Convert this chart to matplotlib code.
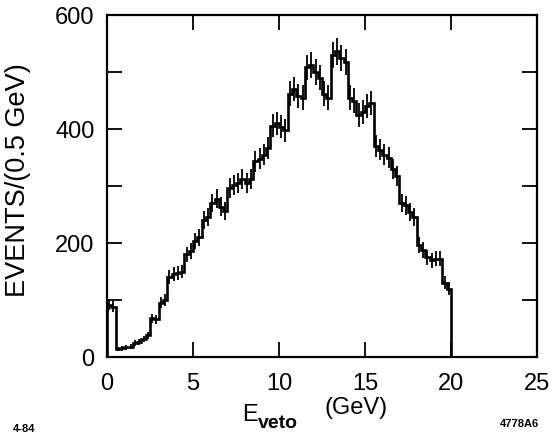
import matplotlib; matplotlib.use('Agg')
import matplotlib.pyplot as plt, numpy as np
from matplotlib.ticker import MultipleLocator, FuncFormatter

plt.rcParams.update({'font.family': ['Liberation Sans', 'DejaVu Sans'], 'font.size': 17})

# bin edges: 0.25 GeV steps, 0 .. 20 GeV
edges = np.arange(0, 20.25, 0.25)
counts = [92, 88, 14, 15, 17, 18, 25, 27, 32, 38,
          68, 66, 95, 100, 140, 146, 147, 150, 180, 186,
          203, 210, 240, 246, 270, 278, 264, 256, 296, 302,
          306, 312, 306, 312, 343, 348, 355, 366, 406, 410,
          404, 398, 462, 470, 458, 455, 508, 513, 500, 490,
          462, 455, 530, 536, 525, 518, 455, 450, 425, 430,
          440, 445, 370, 364, 355, 350, 330, 318, 270, 266,
          255, 246, 196, 188, 175, 170, 172, 172, 130, 120]
counts = np.array(counts, dtype=float)
errors = np.sqrt(counts)   # poisson errors
centers = 0.5 * (edges[:-1] + edges[1:])

fig = plt.figure(figsize=(5.52, 4.35), dpi=100)
ax = fig.add_axes([107/552, 1 - 358/435, 430/552, 342/435])

ax.stairs(counts, edges, baseline=0, color='black', lw=1.9)
ax.errorbar(centers, counts, yerr=errors, fmt='none', ecolor='black',
            elinewidth=1.3, capsize=0)

ax.set_xlim(0, 25)
ax.set_ylim(0, 600)
ax.xaxis.set_major_locator(MultipleLocator(5))
ax.yaxis.set_major_locator(MultipleLocator(100))
ax.yaxis.set_major_formatter(FuncFormatter(lambda v, p: f"{int(v)}" if v % 200 == 0 else ""))
ax.tick_params(direction='in', length=11, width=1.3, top=True, right=True)
ax.tick_params(axis='x', pad=11)
ax.tick_params(axis='y', pad=9)
for s in ax.spines.values():
    s.set_linewidth(1.6)

fig.text(18/552, 1 - 180/435, 'EVENTS/(0.5 GeV)', fontsize=19.5, rotation=90,
         ha='center', va='center')
fig.text(242/552, 1 - 421/435, 'E', fontsize=17, ha='left', va='baseline')
fig.text(258/552, 1 - 428/435, 'veto', fontsize=14, fontweight='bold', ha='left', va='baseline')
fig.text(356/552, 1 - 397/435, '(GeV)', fontsize=17, ha='center', va='top')
fig.text(13/552, 1 - 432/435, '4-84', fontsize=8, fontweight='bold', ha='left', va='baseline')
fig.text(539/552, 1 - 427/435, '4778A6', fontsize=8, fontweight='bold', ha='right', va='baseline')

fig.savefig('out.png')
